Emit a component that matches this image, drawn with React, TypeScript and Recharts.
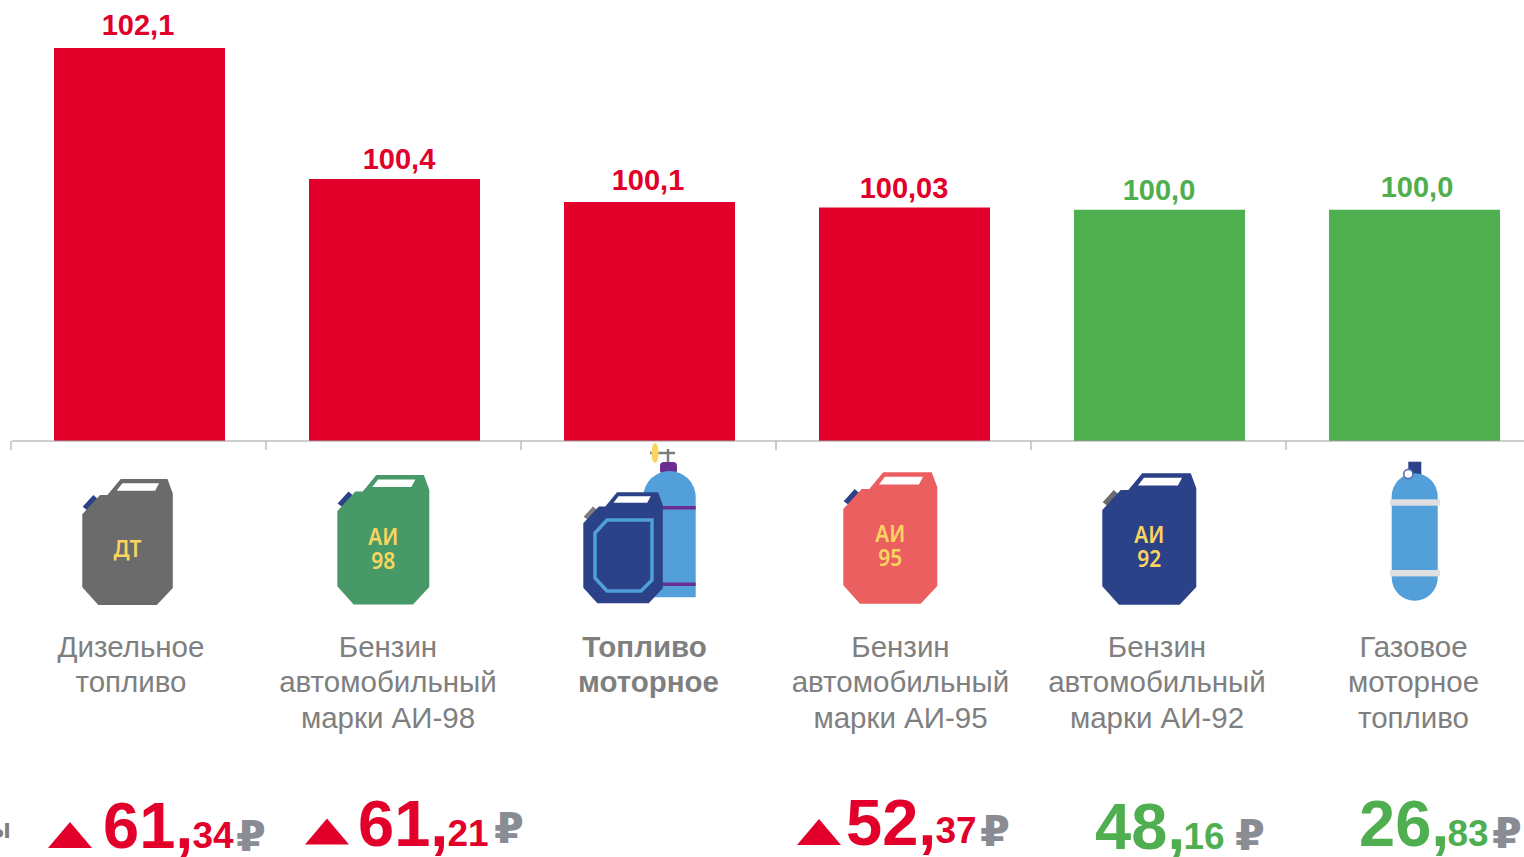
import { BarChart, Bar, XAxis, YAxis, Cell, LabelList } from 'recharts';

const categories = ['Дизельное топливо', 'Бензин АИ-98', 'Топливо моторное', 'Бензин АИ-95', 'Бензин АИ-92', 'Газовое топливо'];
const indexValues = [102.1, 100.4, 100.1, 100.03, 100.0, 100.0];
const valueLabels = ['102,1', '100,4', '100,1', '100,03', '100,0', '100,0'];
const categoryLines = [
  ['Дизельное', 'топливо'],
  ['Бензин', 'автомобильный', 'марки АИ-98'],
  ['Топливо', 'моторное'],
  ['Бензин', 'автомобильный', 'марки АИ-95'],
  ['Бензин', 'автомобильный', 'марки АИ-92'],
  ['Газовое', 'моторное', 'топливо'],
];
const priceWhole = ['61', '61', '', '52', '48', '26'];
const priceCents = ['34', '21', '', '37', '16', '83'];
const priceRising = [true, true, false, true, false, false];

const RED = '#e2002b';
const GREEN = '#4fae4f';
const GREY = '#7f7f7f';
const FONT = '"Liberation Sans", Arial, sans-serif';

// hand placement of the texts, the source slide has them slightly off centre
const valueLabelPos = [
  { dx: -1.5, dy: 13 },
  { dx: 4.5, dy: 10 },
  { dx: -1.5, dy: 12 },
  { dx: -0.5, dy: 10 },
  { dx: -0.5, dy: 10 },
  { dx: 2.5, dy: 13 },
];
const captionX = [131, 388, 644.5, 900.5, 1157, 1413.5];
const pricePos = [
  { tri: 48, triBase: 848, num: 103, base: 848, cents: 192.5, centsBase: 848, rub: 236, rubBase: 851 },
  { tri: 305, triBase: 844.5, num: 358, base: 845.5, cents: 447.5, centsBase: 845.5, rub: 494, rubBase: 843 },
  null,
  { tri: 797, triBase: 845, num: 846, base: 844.5, cents: 935.5, centsBase: 843, rub: 980, rubBase: 846 },
  { tri: 0, triBase: 0, num: 1095, base: 849, cents: 1183.5, centsBase: 849, rub: 1235, rubBase: 850 },
  { tri: 0, triBase: 0, num: 1359, base: 846, cents: 1447.5, centsBase: 846, rub: 1492, rubBase: 848 },
];

const data = categories.map((name, i) => ({ name, value: indexValues[i] }));

function Can({ x, y, w, h, fill, cap, label }: { x: number; y: number; w: number; h: number; fill: string; cap: string; label?: string[] }) {
  const sx = w / 271;
  const sy = h / 376;
  const cx = x + w * 0.5;
  return (
    <g>
      <g transform={`translate(${x} ${y}) scale(${sx} ${sy})`}>
        <polygon points="1,83 33,48 48,61 15,93" fill={cap} />
        <polygon points="0,105 0,323 48,376 223,376 271,325 271,43 255,0 115,0 75,48 53,48" fill={fill} />
        <polygon points="103,35 120,13 230,13 218,35" fill="#fff" />
      </g>
      {label && label.length === 1 && (
        <text x={cx} y={y + 78} textAnchor="middle" fontFamily="'Noto Sans'" fontWeight={600} fontSize={23} textLength={28} lengthAdjust="spacingAndGlyphs" fill="#f9d55f">{label[0]}</text>
      )}
      {label && label.length === 2 && (
        <>
          <text x={cx} y={y + 69.5} textAnchor="middle" fontFamily="'Noto Sans'" fontWeight={600} fontSize={24} textLength={30} lengthAdjust="spacingAndGlyphs" fill="#f9d55f">{label[0]}</text>
          <text x={cx} y={y + 93.5} textAnchor="middle" fontFamily="'Noto Sans'" fontWeight={600} fontSize={24} textLength={24} lengthAdjust="spacingAndGlyphs" fill="#f9d55f">{label[1]}</text>
        </>
      )}
    </g>
  );
}

function Icon({ index }: { index: number }) {
  if (index === 0) return <Can x={82.3} y={479} w={90.5} h={126} fill="#6b6b6b" cap="#2b4288" label={['ДТ']} />;
  if (index === 1) return <Can x={337.3} y={475} w={92} h={129.5} fill="#479a67" cap="#2b4288" label={['АИ', '98']} />;
  if (index === 3) return <Can x={843.3} y={472.3} w={94} h={131.5} fill="#ec5f60" cap="#2b4288" label={['АИ', '95']} />;
  if (index === 4) return <Can x={1102.3} y={473.3} w={94} h={131.5} fill="#2b4288" cap="#6b6b6b" label={['АИ', '92']} />;
  if (index === 2) {
    return (
      <g>
        <line x1={650} y1={453} x2={675} y2={453} stroke="#7c7c7c" strokeWidth={2.5} />
        <line x1={668} y1={449} x2={668} y2={463} stroke="#7c7c7c" strokeWidth={2.5} />
        <ellipse cx={655} cy={453} rx={3.6} ry={10} fill="#f9d55f" />
        <rect x={660} y={462} width={17} height={12} rx={4} fill="#6a2d91" />
        <path d="M643.3 597.3 V497 a26.2 26 0 0 1 52.4 0 V597.3 Z" fill="#529fd9" />
        <rect x={660} y={506} width={35.7} height={3.5} fill="#6a2d91" />
        <rect x={660} y={582.5} width={35.7} height={3.5} fill="#6a2d91" />
        <Can x={583.3} y={492.3} w={79.5} h={111} fill="#2b4288" cap="#7c7c7c" />
        <polygon points="595,533 607,520 652,520 652,580 641,591 607,591 595,578" fill="none" stroke="#4f9fd9" strokeWidth={3.5} />
      </g>
    );
  }
  return (
    <g>
      <rect x={1408.3} y={461.7} width={13} height={14} fill="#2b4288" />
      <rect x={1391.7} y={473.3} width={46} height={127.4} rx={23} fill="#529fd9" />
      <rect x={1390} y={499.3} width={50} height={6.4} fill="#e0e0e0" />
      <rect x={1390} y={570} width={50} height={6.4} fill="#e0e0e0" />
      <circle cx={1408.3} cy={474} r={4.6} fill="#fff" stroke="#5a6bb0" strokeWidth={1.6} />
    </g>
  );
}

function Price({ index }: { index: number }) {
  const pos = pricePos[index];
  if (!pos) return null;
  const color = priceRising[index] ? RED : GREEN;
  return (
    <g fontFamily={FONT} fontWeight={700}>
      {priceRising[index] && (
        <polygon
          points={`${pos.tri},${pos.triBase} ${pos.tri + 44},${pos.triBase} ${pos.tri + 22},${pos.triBase - 26}`}
          fill={color}
        />
      )}
      <text x={pos.num} y={pos.base} fontSize={65} fill={color}>{priceWhole[index]},</text>
      <text x={pos.cents} y={pos.centsBase} fontSize={37} fill={color}>{priceCents[index]}</text>
      <text x={pos.rub} y={pos.rubBase} fontSize={43} fill="#8a8c94" fontFamily="'DejaVu Sans'">₽</text>
    </g>
  );
}

function CategoryTick(props: any) {
  const { x, index } = props;
  const bold = index === 2;
  return (
    <g>
      <line x1={x - 128.5} y1={441} x2={x - 128.5} y2={450} stroke="#9c9c9c" strokeWidth={1} />
      <Icon index={index} />
      {categoryLines[index].map((line, i) => (
        <text
          key={line}
          x={bold && i === 1 ? captionX[index] + 4 : captionX[index]}
          y={656.5 + i * 35.5}
          textAnchor="middle"
          fontFamily={FONT}
          fontSize={29.5}
          fontWeight={bold ? 700 : 400}
          fill={GREY}
        >
          {line}
        </text>
      ))}
      <Price index={index} />
    </g>
  );
}

function ValueLabel(props: any) {
  const { x, y, width, index } = props;
  const pos = valueLabelPos[index];
  return (
    <text
      x={x + width / 2 + pos.dx}
      y={y - pos.dy}
      textAnchor="middle"
      fontFamily={FONT}
      fontSize={29}
      fontWeight={700}
      fill={indexValues[index] > 100 ? RED : GREEN}
    >
      {valueLabels[index]}
    </text>
  );
}

export default function App() {
  return (
    <div style={{ position: 'fixed', left: 0, top: 0, width: 1524, height: 857, overflow: 'hidden', background: '#fff' }}>
      <BarChart
        width={1542}
        height={857}
        data={data}
        margin={{ top: 48, right: 0, left: 12, bottom: 0 }}
      >
        <XAxis
          dataKey="name"
          height={416}
          interval={0}
          axisLine={{ stroke: '#9c9c9c', strokeWidth: 1 }}
          tickLine={false}
          tick={<CategoryTick />}
        />
        <YAxis hide domain={[97, 102.1]} />
        <Bar dataKey="value" barSize={171} isAnimationActive={false}>
          {data.map((d, i) => (
            <Cell key={d.name} fill={indexValues[i] > 100 ? RED : GREEN} />
          ))}
          <LabelList dataKey="value" content={<ValueLabel />} />
        </Bar>
      </BarChart>
      <svg width={12} height={857} style={{ position: 'absolute', left: 0, top: 0 }}>
        <text x={11} y={838} textAnchor="end" fontFamily={FONT} fontSize={28} fontWeight={700} fill={GREY}>ы</text>
      </svg>
    </div>
  );
}
